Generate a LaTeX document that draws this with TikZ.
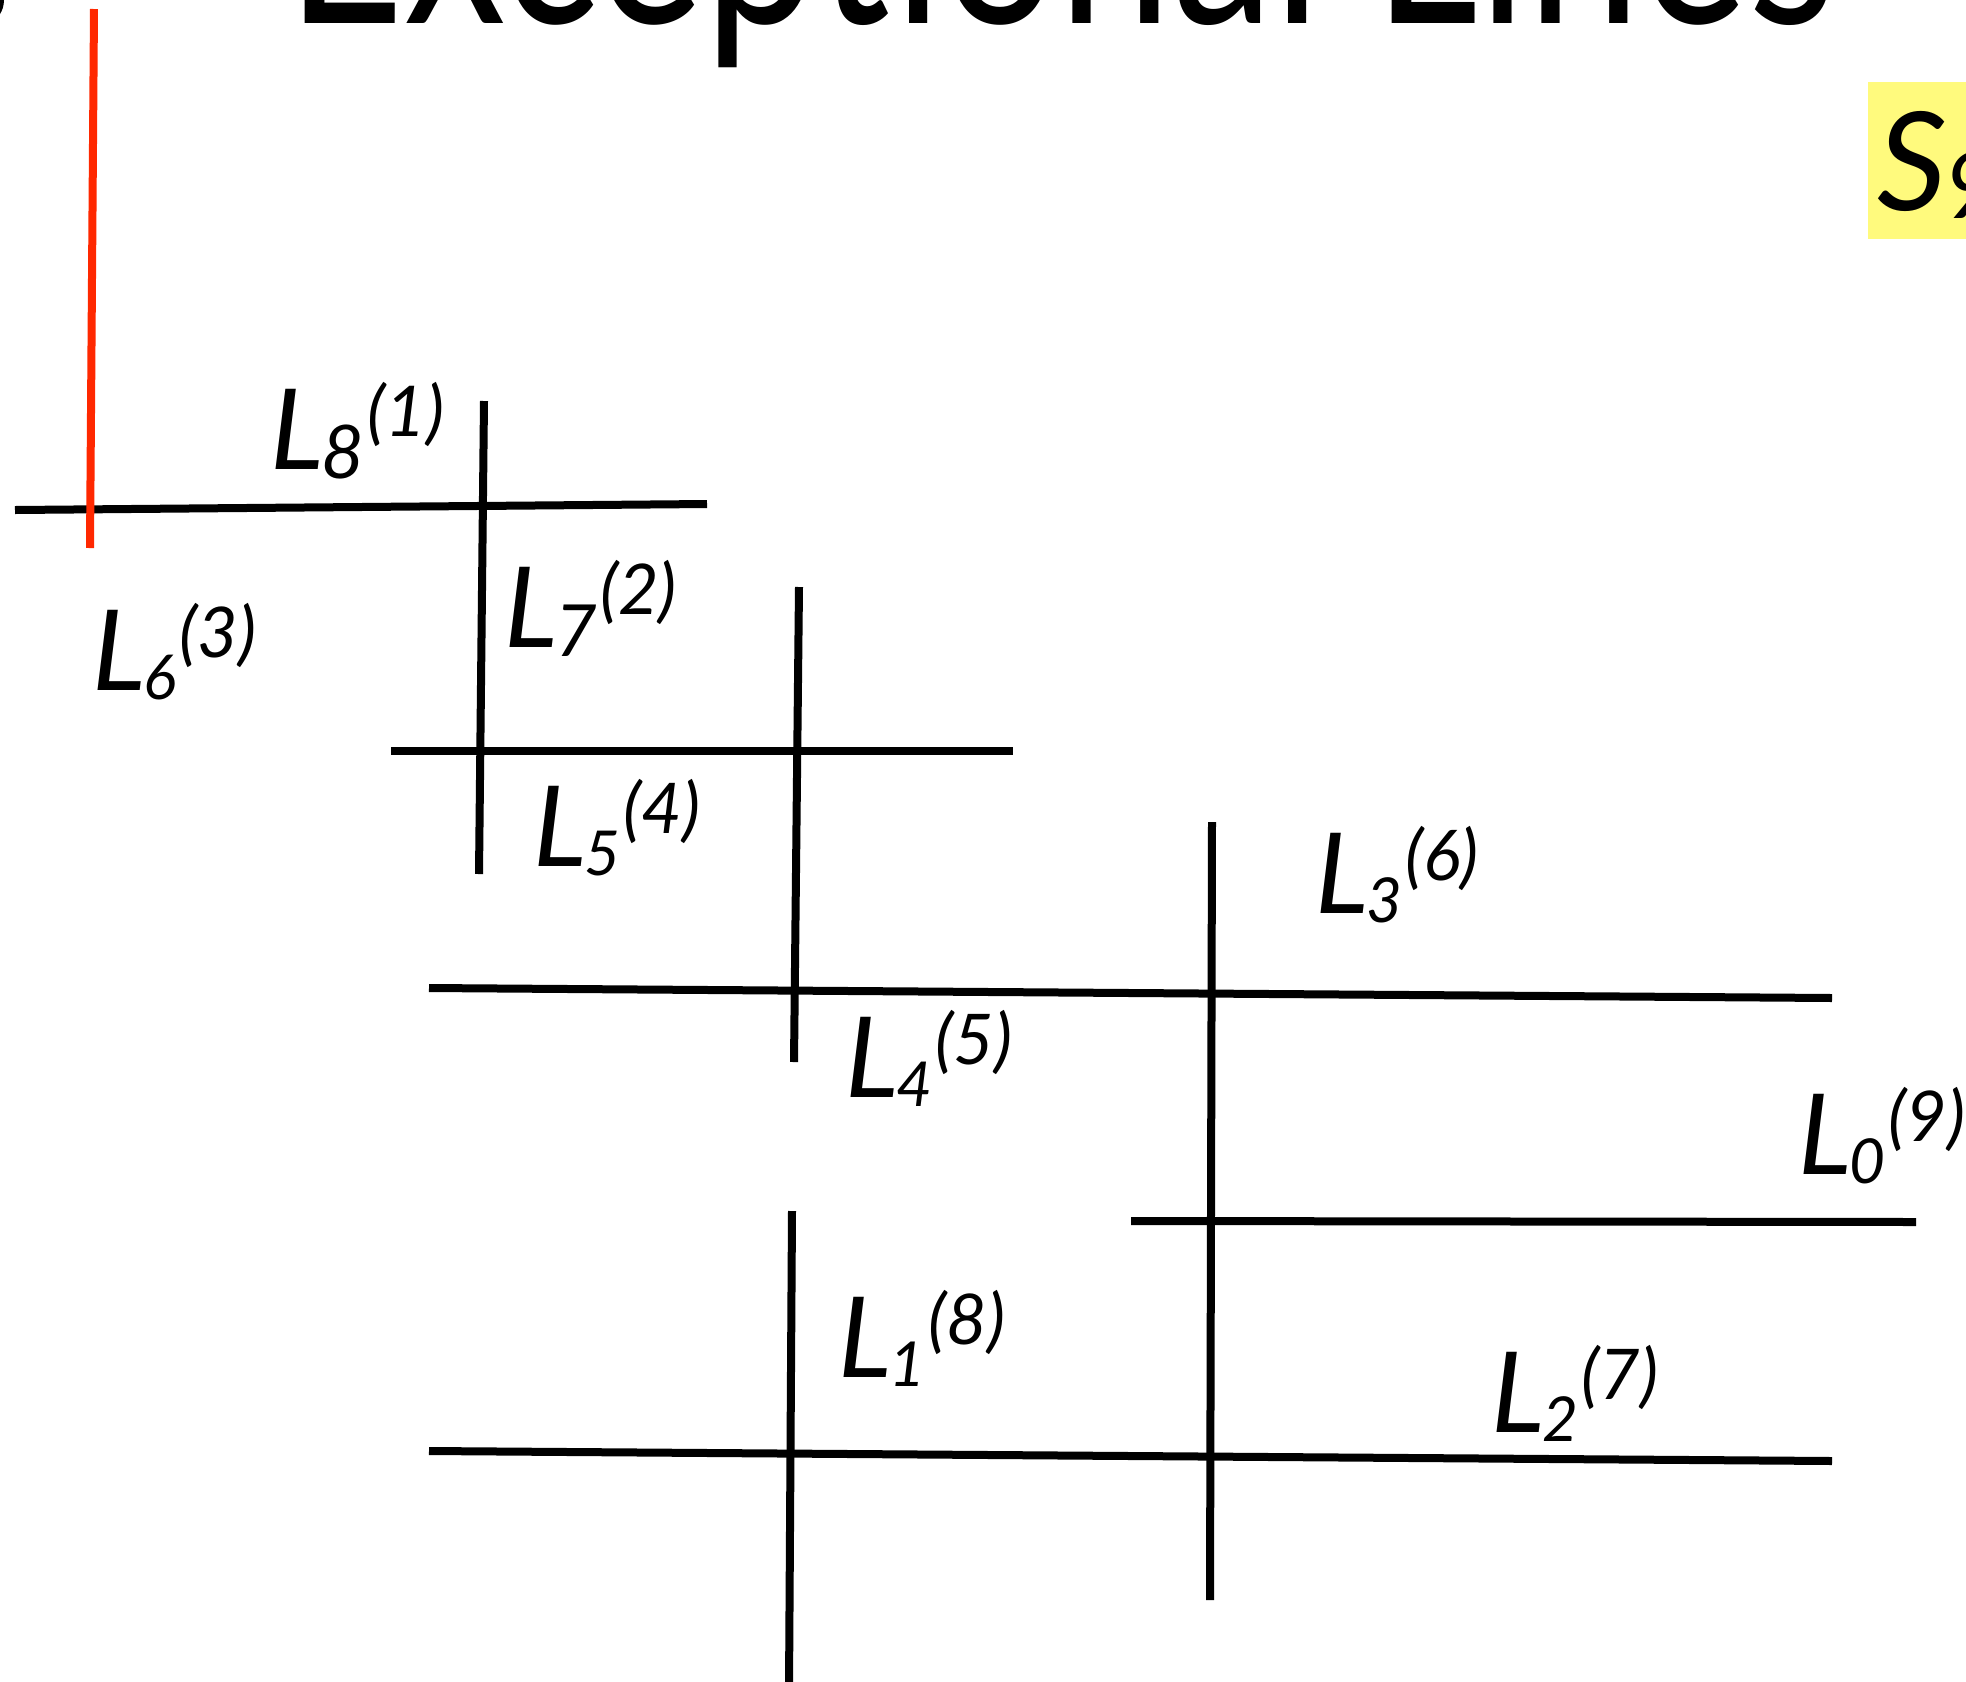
\documentclass[tikz,border=0pt]{standalone}
\usepackage{fontspec}
\setmainfont{Lato}
\definecolor{redline}{RGB}{255,40,0}
\definecolor{hiyellow}{RGB}{255,250,125}
% \Lab[subscript size]{subscript}{superscript}
\newcommand{\Lab}[3][62]{L\kern-2pt\raisebox{-9pt}{\fontsize{#1}{#1}\selectfont #2}\kern3pt\raisebox{33pt}{\fontsize{70}{70}\selectfont(#3)}}
\begin{document}
\begin{tikzpicture}[x=1pt,y=-1pt,
  ln/.style={line width=8pt},
  lab/.style={anchor=base west, inner sep=0pt, font=\fontsize{112}{112}\selectfont\itshape}]
\useasboundingbox (0,0) rectangle (1966,1682);
\clip (0,0) rectangle (1966,1682);
% title (cut off at top)
\node[anchor=base west, inner sep=0pt] (title) at (286,23) {\resizebox{1549pt}{190pt}{Exceptional Lines}};
\fill (0,0) -- (4,0) .. controls (4,6) and (2,11) .. (0,14) -- cycle;
% S9 tag
\fill[hiyellow] (1868,82) rectangle (1970,239);
\node[anchor=base west, inner sep=0pt, font=\fontsize{137}{137}\selectfont\itshape] (s9) at (1877,210) {S\kern-2pt\raisebox{-8pt}{\fontsize{92}{92}\selectfont 9}};
% endpoints
\coordinate (a1) at (15,510);   \coordinate (a2) at (707,504);
\coordinate (b1) at (484,401);  \coordinate (b2) at (479,874);
\coordinate (r1) at (94,9);     \coordinate (r2) at (90,548);
\coordinate (c1) at (391,751);  \coordinate (c2) at (1013,751);
\coordinate (d1) at (799,587);  \coordinate (d2) at (794,1062);
\coordinate (e1) at (429,988);  \coordinate (e2) at (1832,998);
\coordinate (f1) at (1212,822); \coordinate (f2) at (1210,1600);
\coordinate (g1) at (1131,1221);\coordinate (g2) at (1916,1222);
\coordinate (h1) at (792,1211); \coordinate (h2) at (789,1690);
\coordinate (k1) at (429,1451); \coordinate (k2) at (1832,1461);
% lines
\draw[ln] (a1) -- (a2);
\draw[ln] (b1) -- (b2);
\draw[ln, redline] (r1) -- (r2);
\draw[ln] (c1) -- (c2);
\draw[ln] (d1) -- (d2);
\draw[ln] (e1) -- (e2);
\draw[ln] (f1) -- (f2);
\draw[ln] (g1) -- (g2);
\draw[ln] (h1) -- (h2);
\draw[ln] (k1) -- (k2);
% labels
\node[lab] (l8) at (270,469) {\Lab[74]{8}{1}};
\node[lab] (l6) at (92,690) {\Lab{6}{3}};
\node[lab] (l7) at (504,647) {\Lab[72]{7}{2}};
\node[lab] (l5) at (533,866) {\Lab{5}{4}};
\node[lab] (l4) at (845,1097) {\Lab{4}{5}};
\node[lab] (l3) at (1315,913) {\Lab{3}{6}};
\node[lab] (l0) at (1798,1174) {\Lab{0}{9}};
\node[lab] (l1) at (838,1377) {\Lab{1}{8}};
\node[lab] (l2) at (1491,1432) {\Lab{2}{7}};
\end{tikzpicture}
\end{document}
